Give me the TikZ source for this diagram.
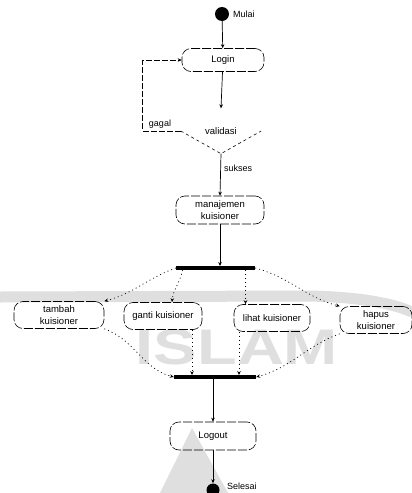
\documentclass[tikz,border=0pt]{standalone}
\usepackage{fontspec}
\setmainfont{Liberation Sans}
\usetikzlibrary{shapes.geometric,arrows.meta}
\begin{document}
\begin{tikzpicture}[x=1pt,y=-1pt,
  font=\fontsize{9.5}{12.5}\selectfont,
  act/.style={draw, rounded corners=9pt, dash pattern=on 9pt off 2pt, line width=0.6pt, align=center, inner sep=1pt},
  conn/.style={draw, line width=0.7pt, -{Stealth[length=4pt,width=3.5pt]}},
  branch/.style={draw, line width=0.7pt, dash pattern=on 1pt off 3pt, -{Stealth[length=4pt,width=3.5pt]}},
  bar/.style={fill=black, draw=none, minimum height=3.5pt, inner sep=0pt},
  lbl/.style={inner sep=1pt, font=\fontsize{9}{10}\selectfont},
  wm/.style={gray!25}
]
\useasboundingbox[fill=white] (0,0) rectangle (412,493);
% watermark (background)
\draw[wm, line width=11pt] (0,297) -- (300,296) .. controls (350,296) and (390,302) .. (412,312);
\node[text=gray!25, font=\fontsize{50}{50}\selectfont\bfseries, xscale=1.3, inner sep=0pt] (wmtext) at (237,347) {ISLAM};
\fill[wm] (192,428) -- (228,493) -- (160,493) -- cycle;
% nodes
\node[circle, fill=black, minimum size=14pt, inner sep=0pt] (start) at (222,14) {};
\node[lbl, anchor=west] (mulai) at (232,14) {Mulai};
\node[act, minimum width=82pt, minimum height=23pt] (login) at (223,60) {Login};
\node[diamond, aspect=1.8, minimum width=80pt, minimum height=45pt, inner sep=0pt] (valid) at (221,131) {validasi};
\node[act, minimum width=88pt, minimum height=28pt] (manaj) at (220,210) {manajemen\\kuisioner};
\node[bar, minimum width=79pt] (fork) at (215.5,268) {};
\node[act, minimum width=90pt, minimum height=27pt] (tambah) at (59,315) {tambah\\kuisioner};
\node[act, minimum width=78pt, minimum height=27pt] (ganti) at (163,316) {ganti kuisioner};
\node[act, minimum width=76pt, minimum height=27pt] (lihat) at (272,318) {lihat kuisioner};
\node[act, minimum width=72pt, minimum height=27pt] (hapus) at (376,320) {hapus\\kuisioner};
\node[bar, minimum width=82pt] (join) at (215,377) {};
\node[act, minimum width=86pt, minimum height=28pt] (logout) at (213,436) {Logout};
\node[circle, fill=black, minimum size=13pt, inner sep=0pt] (end) at (213,490) {};
\node[lbl, anchor=west] (selesai) at (226,486) {Selesai};
% decision outline (lower edges as printed)
\draw[line width=0.6pt, dash pattern=on 3pt off 3pt] (valid.west) -- (valid.south) -- (valid.east);
% connectors
\draw[conn] (start) -- (login);
\draw[conn] (login) -- (valid.north);
\draw[conn, dash pattern=on 6pt off 2pt] (valid.west) -- ++(-38,0) coordinate (gturn) |- (login.west);
\node[lbl] (gagal) at (160,124) {gagal};
\draw[conn] (valid.south) -- (manaj.north) node[lbl, pos=0.35, anchor=west, xshift=2pt] (sukses) {sukses};
\draw[conn] (manaj.south) -- (manaj.south |- fork.north);
\draw[branch] (fork.west) to[out=200, in=15] (tambah.north east);
\draw[branch] ([xshift=-33]fork.south) to[out=-100, in=85] ([xshift=9]ganti.north);
\draw[branch] ([xshift=30]fork.south) -- ([xshift=30]fork.south |- lihat.north);
\draw[branch] (fork.east) to[out=-15, in=165] (hapus.north west);
\draw[branch] (tambah.south east) to[out=-20, in=165] (join.west);
\draw[branch] ([xshift=29]ganti.south) -- ([xshift=29]ganti.south |- join.north);
\draw[branch] ([xshift=-33]lihat.south) -- ([xshift=-33]lihat.south |- join.north);
\draw[branch] (hapus.south west) to[out=200, in=15] (join.east);
\draw[conn] (join.south -| logout.north) -- (logout.north);
\draw[conn] (logout.south) -- (end);
\end{tikzpicture}
\end{document}
